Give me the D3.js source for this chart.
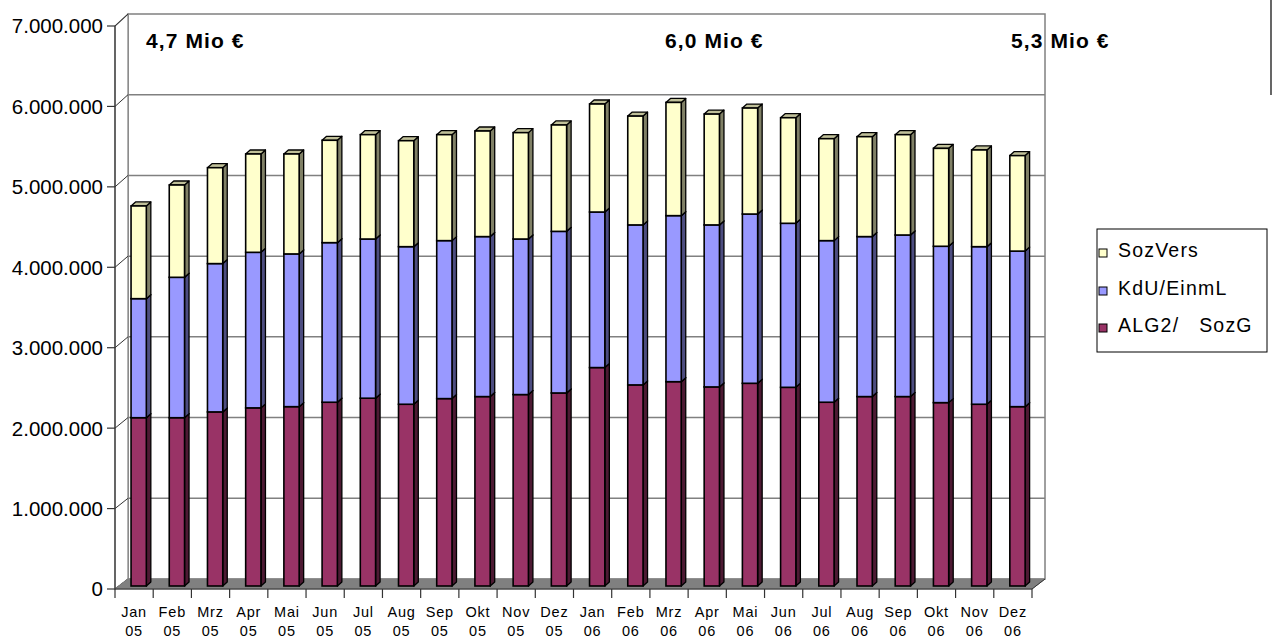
<!DOCTYPE html>
<html>
<head>
<meta charset="utf-8">
<script src="https://cdn.jsdelivr.net/npm/d3@7"></script>
<style>
  html, body { margin: 0; padding: 0; background: #fff; }
  svg { display: block; font-family: "Liberation Sans", Arial, sans-serif; }
</style>
</head>
<body>
<svg id="chart" width="1274" height="639"></svg>
<script>
// ---- data ----
const months = ["Jan","Feb","Mrz","Apr","Mai","Jun","Jul","Aug","Sep","Okt","Nov","Dez",
                "Jan","Feb","Mrz","Apr","Mai","Jun","Jul","Aug","Sep","Okt","Nov","Dez"];
const years  = ["05","05","05","05","05","05","05","05","05","05","05","05",
                "06","06","06","06","06","06","06","06","06","06","06","06"];
const alg2SozG = [2088000,2088000,2160000,2210000,2225000,2280000,2330000,2255000,2325000,2350000,2375000,2395000,
                  2710000,2495000,2535000,2470000,2515000,2465000,2280000,2350000,2350000,2275000,2255000,2225000];
const kduEinmL = [1477000,1742000,1840000,1930000,1895000,1980000,1975000,1955000,1960000,1985000,1930000,2005000,
                  1930000,1985000,2060000,2010000,2100000,2035000,2005000,1985000,2005000,1940000,1955000,1930000];
const sozVers  = [1150000,1145000,1190000,1220000,1240000,1270000,1295000,1315000,1315000,1310000,1320000,1320000,
                  1340000,1350000,1405000,1375000,1315000,1310000,1265000,1240000,1245000,1215000,1200000,1185000];
const seriesNames = ["ALG2/   SozG","KdU/EinmL","SozVers"];
const yTicks = [0,1000000,2000000,3000000,4000000,5000000,6000000,7000000];
const annotations = ["4,7 Mio €","6,0 Mio €","5,3 Mio €"];

// ---- styles ----
const fills = ["#993366","#9999FF","#FFFFCC"];
const sides = ["#4d1a33","#4d4d80","#808066"];
const tops  = ["#734d4d","#7373bf","#c0c099"];

const svg = d3.select("#chart");
const cats = months.map((m,i)=> m+" "+years[i]);

const x = d3.scaleBand().domain(cats).range([115,1032]).paddingInner(0).paddingOuter(0);
const step = x.step();
const yF = d3.scaleLinear().domain([0,7000000]).range([589,26]);     // front plane
const yB = d3.scaleLinear().domain([0,7000000]).range([579,14]);     // back wall
const yBar = d3.scaleLinear().domain([0,7000000]).range([586,21.8]); // bar front faces
const DX = 13;
const bdx = 4.5, bdy = -4;

const fmt = d3.formatLocale({decimal:",", thousands:".", grouping:[3], currency:["","€"]}).format(",.0f");

// back wall
const wallL = 115 + DX, wallR = 1032 + DX;
svg.append("rect").attr("x",wallL).attr("y",yB(7000000)).attr("width",wallR-wallL).attr("height",yB(0)-yB(7000000))
  .attr("fill","#fff").attr("stroke","#808080").attr("stroke-width",1.5);
// left side wall
svg.append("path").attr("d",`M115,${yF(7000000)}L${wallL},${yB(7000000)}L${wallL},${yB(0)}L115,${yF(0)}Z`)
  .attr("fill","#fff").attr("stroke","#808080").attr("stroke-width",1.2);
// gridlines
yTicks.forEach(v=>{
  if (v>0 && v<7000000) {
    svg.append("line").attr("x1",wallL).attr("x2",wallR).attr("y1",yB(v)).attr("y2",yB(v))
      .attr("stroke","#808080").attr("stroke-width",1.5);
  }
  svg.append("line").attr("x1",115).attr("x2",wallL).attr("y1",yF(v)).attr("y2",yB(v))
    .attr("stroke","#333").attr("stroke-width",1);
});
// floor
svg.append("path").attr("d",`M115,${yF(0)}L1032,${yF(0)}L${wallR},${yB(0)}L${wallL},${yB(0)}Z`)
  .attr("fill","#808080").attr("stroke","#808080").attr("stroke-width",1);

// stacked data
const table = cats.map((c,i)=>({cat:c, a:alg2SozG[i], k:kduEinmL[i], s:sozVers[i]}));
const stack = d3.stack().keys(["a","k","s"])(table);

const barW = step*0.40, barOff = step*0.42;
const gBars = svg.append("g");
table.forEach((d,i)=>{
  const g = gBars.append("g");
  stack.forEach((layer,si)=>{
    const seg = layer[i];
    const x0 = x(d.cat)+barOff, x1 = x0+barW;
    const y0 = yBar(seg[0]), y1 = yBar(seg[1]);
    g.append("path").attr("d",`M${x1},${y1}L${x1+bdx},${y1+bdy}L${x1+bdx},${y0+bdy}L${x1},${y0}Z`)
      .attr("fill",sides[si]).attr("stroke","#000").attr("stroke-width",1.3).attr("stroke-linejoin","round");
    g.append("path").attr("d",`M${x0},${y1}L${x0+bdx},${y1+bdy}L${x1+bdx},${y1+bdy}L${x1},${y1}Z`)
      .attr("fill",tops[si]).attr("stroke","#000").attr("stroke-width",1.3).attr("stroke-linejoin","round");
    g.append("rect").attr("x",x0).attr("y",y1).attr("width",barW).attr("height",y0-y1)
      .attr("fill",fills[si]).attr("stroke","#000").attr("stroke-width",1.6);
  });
});

// y axis
svg.append("line").attr("x1",115).attr("x2",115).attr("y1",yF(7000000)).attr("y2",yF(0)+9)
  .attr("stroke","#333").attr("stroke-width",1.2);
const yAxis = svg.append("g");
yTicks.forEach(v=>{
  yAxis.append("line").attr("x1",107).attr("x2",115).attr("y1",yF(v)).attr("y2",yF(v))
    .attr("stroke","#333").attr("stroke-width",1.2);
  yAxis.append("text").attr("x",103).attr("y",yF(v)).attr("dy","0.36em").attr("text-anchor","end")
    .attr("font-size",20.5).attr("fill","#000").text(fmt(v));
});

// x axis
svg.append("line").attr("x1",115).attr("x2",1032).attr("y1",yF(0)).attr("y2",yF(0))
  .attr("stroke","#333").attr("stroke-width",1.2);
svg.append("line").attr("x1",1032).attr("x2",wallR).attr("y1",yF(0)).attr("y2",yB(0))
  .attr("stroke","#333").attr("stroke-width",1);
cats.forEach((c,i)=>{
  svg.append("line").attr("x1",x(c)+step).attr("x2",x(c)+step).attr("y1",yF(0)).attr("y2",yF(0)+9)
    .attr("stroke","#333").attr("stroke-width",1.2);
  const t = svg.append("text").attr("text-anchor","middle").attr("font-size",14.5).attr("letter-spacing",0.8)
    .attr("fill","#000");
  t.append("tspan").attr("x",x(c)+step/2).attr("y",617).text(months[i]);
  t.append("tspan").attr("x",x(c)+step/2).attr("y",636).text(years[i]);
});

// annotations
const annX = [146, 665, 1011];
annotations.forEach((a,j)=>{
  svg.append("text").attr("x",annX[j]).attr("y",48).attr("font-size",21).attr("font-weight","bold")
    .attr("letter-spacing",1.1).attr("fill","#000").text(a);
});

// legend
const lg = svg.append("g");
lg.append("rect").attr("x",1097).attr("y",229).attr("width",170).attr("height",123)
  .attr("fill","#fff").attr("stroke","#000").attr("stroke-width",1);
const legendItems = [{n:seriesNames[2],c:fills[2]},{n:seriesNames[1],c:fills[1]},{n:seriesNames[0],c:fills[0]}];
const legY = [253, 291, 328];
legendItems.forEach((it,j)=>{
  lg.append("rect").attr("x",1099).attr("y",legY[j]-4).attr("width",8).attr("height",8)
    .attr("fill",it.c).attr("stroke","#000").attr("stroke-width",1);
  lg.append("text").attr("x",1118).attr("y",legY[j]+3.5).attr("font-size",19.5).attr("letter-spacing",1.2)
    .style("white-space","pre").attr("fill","#000").text(it.n);
});

// chart border fragment at right edge
svg.append("line").attr("x1",1271).attr("x2",1271).attr("y1",0).attr("y2",95).attr("stroke","#000").attr("stroke-width",1.2);
</script>
</body>
</html>
